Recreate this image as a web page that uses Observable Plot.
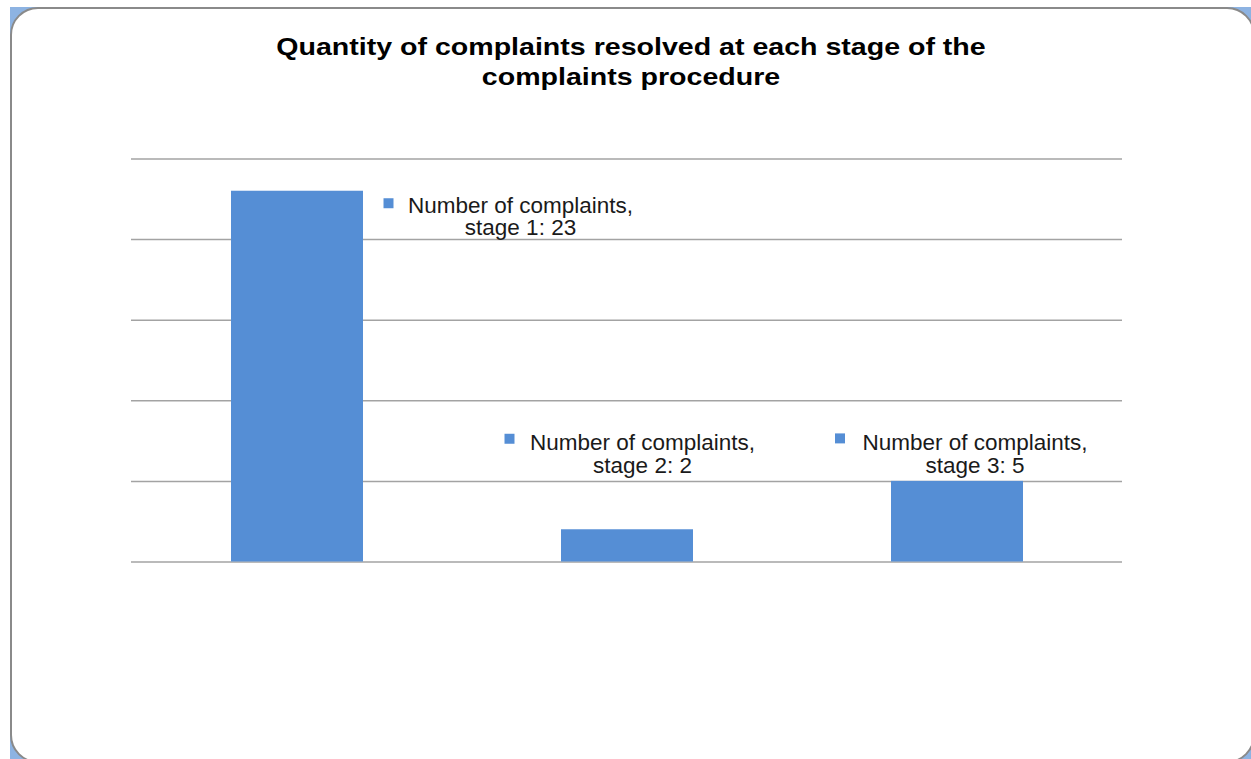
<!DOCTYPE html>
<html>
<head>
<meta charset="utf-8">
<script src="https://cdn.jsdelivr.net/npm/d3@7"></script>
<script src="https://cdn.jsdelivr.net/npm/@observablehq/plot@0.6"></script>
<style>
  html, body { margin: 0; padding: 0; background: #fff; width: 1251px; height: 759px; overflow: hidden; }
  #corner { position: absolute; left: 10px; top: 7px; width: 1245px; height: 756px; background: #8db3e2; }
  #frame { position: absolute; left: 10px; top: 7px; width: 1245px; height: 756px; box-sizing: border-box;
           border: 2px solid #8a8a8a; border-radius: 28px; background: #fff; }
  #title { position: absolute; left: 0; top: 32px; width: 1262px; text-align: center;
           font-family: "Liberation Sans", Arial, sans-serif; font-weight: bold; font-size: 24px;
           line-height: 30px; color: #000; transform: scaleX(1.19); transform-origin: 631px 0; }
  #chart { position: absolute; left: 0; top: 120px; }
</style>
</head>
<body>
<div id="corner"></div>
<div id="frame"></div>
<div id="title">Quantity of complaints resolved at each stage of the<br>complaints procedure</div>
<div id="chart"></div>
<script>
const stages = ["Stage 1", "Stage 2", "Stage 3"];
const counts = [23, 2, 5];
const seriesName = "Number of complaints";
const yTicks = [0, 5, 10, 15, 20, 25];

const data = stages.map((s, i) => ({
  stage: s,
  count: counts[i],
  label: `${seriesName},\n${s.toLowerCase()}: ${counts[i]}`
}));

const barColor = "#558ed5";
const font = "Liberation Sans, Arial, sans-serif";

// label offsets (style only) per stage
const labelStyle = [
  {tdx: 223, tdy: 5, sdx: 91, sdy: 12},
  {tdx: 15, tdy: -96, sdx: -118, sdy: -91},
  {tdx: 17.5, tdy: -48, sdx: -117.5, sdy: -43}
];

const marks = [
  Plot.ruleY(yTicks, {stroke: "#a3a3a3", strokeWidth: 1.5}),
  Plot.barY(data, {x: "stage", y: "count", fill: barColor})
];
data.forEach((d, i) => {
  const st = labelStyle[i];
  marks.push(Plot.dot([d], {x: "stage", y: "count", symbol: "square", r: 5.64, fill: barColor,
    stroke: null, dx: st.sdx, dy: st.sdy}));
  marks.push(Plot.text([d], {x: "stage", y: "count", text: "label", dx: st.tdx, dy: st.tdy,
    lineAnchor: "top", textAnchor: "middle", lineHeight: 1.02, fontSize: 22.5, fill: "#1a1a1a",
    fontFamily: font}));
});

const chart = Plot.plot({
  width: 1251,
  height: 500,
  marginTop: 38.5,
  marginBottom: 58.5,
  marginLeft: 131,
  marginRight: 129,
  style: {background: "transparent", fontFamily: font},
  x: {domain: stages, paddingInner: 0.6, paddingOuter: 0.3, axis: null},
  y: {domain: [0, 25], axis: null},
  marks
});
document.getElementById("chart").appendChild(chart);
</script>
</body>
</html>
